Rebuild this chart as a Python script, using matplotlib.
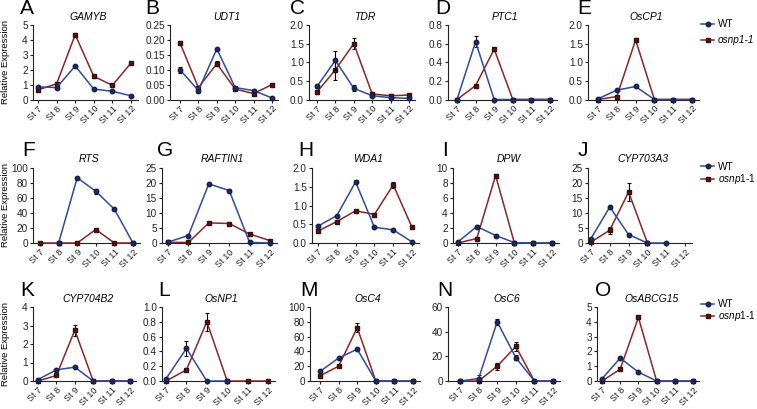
import numpy as np
import matplotlib
matplotlib.use('Agg')
import matplotlib.pyplot as plt
from matplotlib.lines import Line2D

plt.rcParams['font.family'] = ['Liberation Sans', 'DejaVu Sans']
plt.rcParams['mathtext.fontset'] = 'custom'
plt.rcParams['mathtext.it'] = 'Liberation Sans:italic'
plt.rcParams['mathtext.rm'] = 'Liberation Sans'

stages = ['St 7', 'St 8', 'St 9', 'St 10', 'St 11', 'St 12']
nan = np.nan

# A GAMYB
gamyb_wt = [0.85, 0.8, 2.25, 0.7, 0.55, 0.25]
gamyb_wt_err = [0.08, 0.06, 0.06, 0.04, 0.03, 0.03]
gamyb_mut = [0.65, 1.05, 4.35, 1.55, 0.95, 2.45]
gamyb_mut_err = [0.06, 0.08, 0.08, 0.08, 0.07, 0.1]
# B UDT1
udt1_wt = [0.10, 0.03, 0.17, 0.04, 0.03, 0.005]
udt1_wt_err = [0.01, 0.004, 0.004, 0.004, 0.004, 0.002]
udt1_mut = [0.19, 0.04, 0.12, 0.035, 0.02, 0.05]
udt1_mut_err = [0.007, 0.003, 0.008, 0.003, 0.003, 0.002]
# C TDR
tdr_wt = [0.35, 1.05, 0.3, 0.1, 0.05, 0.03]
tdr_wt_err = [0.05, 0.25, 0.08, 0.03, 0.02, 0.02]
tdr_mut = [0.2, 0.8, 1.5, 0.15, 0.1, 0.12]
tdr_mut_err = [0.05, 0.28, 0.15, 0.04, 0.04, 0.04]
# D PTC1
ptc1_wt = [0, 0.62, 0, 0, 0, 0]
ptc1_wt_err = [0, 0.06, 0, 0, 0, 0]
ptc1_mut = [0, 0.15, 0.54, 0, 0, 0]
ptc1_mut_err = [0, 0.01, 0.01, 0, 0, 0]
# E OsCP1
oscp1_wt = [0.02, 0.25, 0.35, 0, 0, 0]
oscp1_wt_err = [0.01, 0.01, 0.02, 0, 0, 0]
oscp1_mut = [0, 0.08, 1.6, 0, 0, 0]
oscp1_mut_err = [0, 0.02, 0.05, 0, 0, 0]
# F RTS
rts_wt = [nan, 0, 87, 69, 45, 0]
rts_wt_err = [0, 0, 1.5, 3.5, 1, 0]
rts_mut = [0, 0, 0, 18, 0, 0]
rts_mut_err = [0, 0, 0, 1, 0, 0]
# G RAFTIN1
raftin1_wt = [0.3, 2.5, 19.7, 17.5, 0.2, 0]
raftin1_wt_err = [0.1, 0.3, 0.4, 0.6, 0.1, 0]
raftin1_mut = [0.2, 0.2, 6.7, 6.5, 3.0, 0.8]
raftin1_mut_err = [0, 0, 0.3, 0.3, 0.3, 0.1]
# H WDA1
wda1_wt = [0.45, 0.73, 1.63, 0.42, 0.35, 0.03]
wda1_wt_err = [0.02, 0.02, 0.04, 0.02, 0.02, 0.01]
wda1_mut = [0.32, 0.57, 0.86, 0.76, 1.55, 0.42]
wda1_mut_err = [0.02, 0.02, 0.02, 0.02, 0.07, 0.02]
# I DPW
dpw_wt = [0.15, 2.2, 1.0, 0.05, 0, 0]
dpw_wt_err = [0.05, 0.15, 0.1, 0, 0, 0]
dpw_mut = [0, 0.6, 9.0, 0, 0, 0]
dpw_mut_err = [0, 0.1, 0.2, 0, 0, 0]
# J CYP703A3
cyp703_wt = [1.5, 12, 2.8, 0, 0, nan]
cyp703_wt_err = [0.2, 0.3, 0.2, 0, 0, 0]
cyp703_mut = [0.3, 4.3, 17, 0, nan, nan]
cyp703_mut_err = [0.2, 1.2, 3, 0, 0, 0]
# K CYP704B2
cyp704_wt = [0.08, 0.6, 0.75, 0, 0, 0]
cyp704_wt_err = [0.02, 0.05, 0.05, 0, 0, 0]
cyp704_mut = [0, 0.3, 2.75, 0, 0, 0]
cyp704_mut_err = [0, 0.03, 0.3, 0, 0, 0]
# L OsNP1
osnp1_wt = [0.03, 0.44, 0, 0, nan, nan]
osnp1_wt_err = [0.01, 0.1, 0, 0, 0, 0]
osnp1_mut = [0, 0.15, 0.8, 0, 0, 0]
osnp1_mut_err = [0, 0.02, 0.12, 0, 0, 0]
# M OsC4
osc4_wt = [13, 31, 43, 0, 0, 0]
osc4_wt_err = [1.5, 1.5, 1.5, 0, 0, 0]
osc4_mut = [7, 20, 72, 0, 0, 0]
osc4_mut_err = [1, 1, 6, 0, 0, 0]
# N OsC6
osc6_wt = [0, 2, 48, 19, 0, 0]
osc6_wt_err = [0, 3, 2.5, 2, 0, 0]
osc6_mut = [0, 0, 12, 28, 0, 0]
osc6_mut_err = [0, 0, 3, 4, 0, 0]
# O OsABCG15
abcg15_wt = [0.15, 1.55, 0.6, 0, 0, 0]
abcg15_wt_err = [0.03, 0.05, 0.04, 0, 0, 0]
abcg15_mut = [0, 0.8, 4.3, 0, 0, 0]
abcg15_mut_err = [0, 0.05, 0.1, 0, 0, 0]

panels = [
    ('A', 'GAMYB', gamyb_wt, gamyb_wt_err, gamyb_mut, gamyb_mut_err, 5, 1, '%d'),
    ('B', 'UDT1', udt1_wt, udt1_wt_err, udt1_mut, udt1_mut_err, 0.25, 0.05, '%.2f'),
    ('C', 'TDR', tdr_wt, tdr_wt_err, tdr_mut, tdr_mut_err, 2.0, 0.5, '%.1f'),
    ('D', 'PTC1', ptc1_wt, ptc1_wt_err, ptc1_mut, ptc1_mut_err, 0.8, 0.2, '%.1f'),
    ('E', 'OsCP1', oscp1_wt, oscp1_wt_err, oscp1_mut, oscp1_mut_err, 2.0, 0.5, '%.1f'),
    ('F', 'RTS', rts_wt, rts_wt_err, rts_mut, rts_mut_err, 100, 20, '%d'),
    ('G', 'RAFTIN1', raftin1_wt, raftin1_wt_err, raftin1_mut, raftin1_mut_err, 25, 5, '%d'),
    ('H', 'WDA1', wda1_wt, wda1_wt_err, wda1_mut, wda1_mut_err, 2.0, 0.5, '%.1f'),
    ('I', 'DPW', dpw_wt, dpw_wt_err, dpw_mut, dpw_mut_err, 10, 2, '%d'),
    ('J', 'CYP703A3', cyp703_wt, cyp703_wt_err, cyp703_mut, cyp703_mut_err, 25, 5, '%d'),
    ('K', 'CYP704B2', cyp704_wt, cyp704_wt_err, cyp704_mut, cyp704_mut_err, 4, 1, '%d'),
    ('L', 'OsNP1', osnp1_wt, osnp1_wt_err, osnp1_mut, osnp1_mut_err, 1.0, 0.2, '%.1f'),
    ('M', 'OsC4', osc4_wt, osc4_wt_err, osc4_mut, osc4_mut_err, 100, 20, '%d'),
    ('N', 'OsC6', osc6_wt, osc6_wt_err, osc6_mut, osc6_mut_err, 60, 20, '%d'),
    ('O', 'OsABCG15', abcg15_wt, abcg15_wt_err, abcg15_mut, abcg15_mut_err, 5, 1, '%d'),
]

# layout in pixels: (axis left, first point, last point, letter x)
layout = [
    (33, 38, 131, 20), (170, 180, 272, 145), (309, 317, 409, 290), (448, 457, 550, 435), (588, 598, 692, 577),
    (33, 40, 133, 22), (162, 168, 270, 157), (312, 318, 412, 298), (453, 458, 552, 442), (588, 591, 685, 578),
    (33, 38, 130, 20), (162, 166, 268, 158), (310, 320, 413, 300), (448, 460, 553, 437), (597, 602, 693, 595),
]
row_top = [25, 168, 307]
row_bottom = [99.5, 243, 381]

WT_C = '#2e4b9c'
MUT_C = '#8c2626'

W, H = 757, 409
fig = plt.figure(figsize=(W / 100, H / 100), dpi=100)

x = np.arange(len(stages))
for i, (letter, gene, wt, wt_err, mut, mut_err, ymax, ystep, fmt) in enumerate(panels):
    row = i // 5
    left, first, last, letter_x = layout[i]
    top, bottom = row_top[row], row_bottom[row]
    sp = (last - first) / 5
    right = last + 0.35 * sp
    ax = fig.add_axes([left / W, 1 - bottom / H, (right - left) / W, (bottom - top) / H])

    ax.errorbar(x, mut, yerr=mut_err, color=MUT_C, marker='s', ms=3.2, mfc='#5a1414', mec='#3a0d0d',
                lw=1.1, ecolor='black', elinewidth=0.8, capsize=1.5, capthick=0.8, clip_on=False, zorder=3)
    ax.errorbar(x, wt, yerr=wt_err, color=WT_C, marker='o', ms=3.2, mfc='#1c2c66', mec='#141d45',
                lw=1.1, ecolor='black', elinewidth=0.8, capsize=1.5, capthick=0.8, clip_on=False, zorder=4)

    ax.set_xlim(-(first - left) / sp, 5.35)
    ax.set_ylim(0, ymax)
    yt = np.arange(0, ymax + ystep / 2, ystep)
    ax.set_yticks(yt)
    ax.set_yticklabels([fmt % v for v in yt], fontsize=7.2)
    ax.set_xticks(x)
    ax.set_xticklabels(stages, rotation=45, ha='right', rotation_mode='anchor', fontsize=6.6)
    for s in ['top', 'right']:
        ax.spines[s].set_visible(False)
    for s in ['left', 'bottom']:
        ax.spines[s].set_linewidth(0.8)
        ax.spines[s].set_color('#222222')
    ax.tick_params(length=2.5, width=0.8, pad=1.2, colors='#222222')
    ax.tick_params(axis='x', pad=0.8)

    fig.text((left + right) / 2 / W + 0.004, 1 - (top - 8.5) / H, gene, ha='center', va='center',
             fontsize=7.5, style='italic')
    fig.text(letter_x / W, 1 - (top - 17) / H, letter, ha='left', va='center', fontsize=15)

    if i % 5 == 0:
        fig.text(5.5 / W, 1 - (top + bottom) / 2 / H, 'Relative Expression', rotation=90,
                 ha='center', va='center', fontsize=6.8)

# legends
handles = [Line2D([], [], color=WT_C, marker='o', ms=3.2, mfc='#1c2c66', mec='#141d45', lw=1.1),
           Line2D([], [], color=MUT_C, marker='s', ms=3.2, mfc='#5a1414', mec='#3a0d0d', lw=1.1)]
leg_labels = [['WT', 'osnp1-1'],
              ['WT', r'$\it{osnp1}$-1'],
              ['WT', r'$\it{osnp1}$-1']]
leg_y = [19, 162, 299]
leg_space = [0.6, 0.05, 0.0]
for r in range(3):
    leg = fig.legend(handles, leg_labels[r], loc='upper left', bbox_to_anchor=(701 / W, 1 - leg_y[r] / H),
                     frameon=False, fontsize=7.2, handlelength=1.3, handletextpad=0.4, borderpad=0,
                     borderaxespad=0, labelspacing=leg_space[r])
    if r == 0:
        leg.get_texts()[1].set_style('italic')

fig.savefig('out.png', dpi=100)
